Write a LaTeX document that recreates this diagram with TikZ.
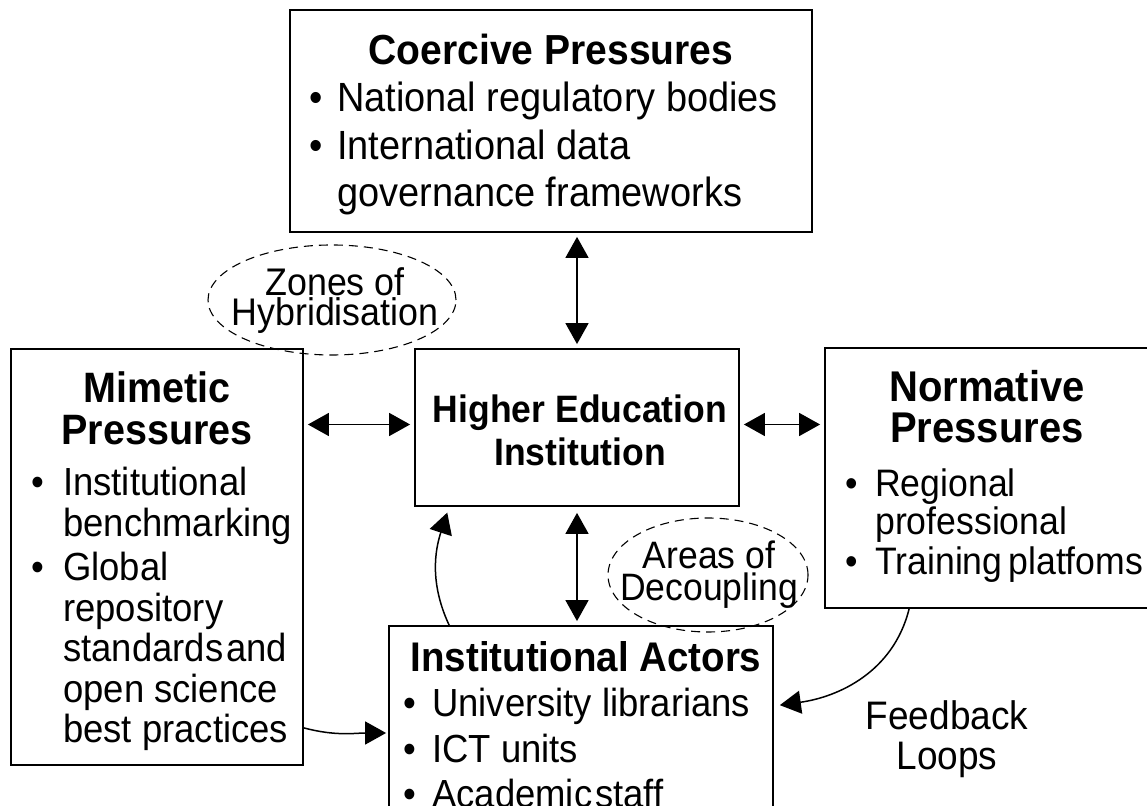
\documentclass[tikz,border=0pt]{standalone}
\usepackage{fontspec}
% slightly narrowed glyphs: tall letters at Arial-like widths
\setmainfont{Liberation Sans}[FakeStretch=0.93]
\usetikzlibrary{arrows.meta,shapes.geometric}
% bullet centred on the node's left edge, text starting #1 further right
\newcommand\bl[1][22pt]{\makebox[0pt][c]{•}\hspace*{#1}}
% top-aligned text blocks (first baseline = node base)
\newcommand\lft[2]{\parbox[t]{#1}{\raggedright #2}}
\newcommand\ctr[2]{\parbox[t]{#1}{\centering #2}}
\begin{document}
\begin{tikzpicture}[x=1pt,y=1pt,
  box/.style={draw, line width=1.8pt, inner sep=0pt},
  zone/.style={draw, ellipse, dash pattern=on 9pt off 6pt, line width=1.1pt, inner sep=0pt},
  txt/.style={inner sep=0pt, anchor=base west},
  ttl/.style={inner sep=0pt, anchor=base},
  both/.style={line width=1.6pt, {Triangle[width=23pt,length=21pt]}-{Triangle[width=23pt,length=21pt]}, shorten <=4pt, shorten >=4pt},
  one/.style={line width=1.5pt, -{Triangle[width=23pt,length=21pt]}}
]
\fill[white] (0,0) rectangle (1147,805);
\useasboundingbox (0,0) rectangle (1147,805);
\clip (0,0) rectangle (1147,805);

% frames
\node[box, minimum width=522pt, minimum height=222pt] (coer) at (551,684) {};
\node[box, minimum width=324pt, minimum height=157pt] (hei) at (577,377.5) {};
\node[box, minimum width=292pt, minimum height=416pt] (mim) at (157,248) {};
\node[box, minimum width=325pt, minimum height=260pt] (norm) at (987.5,327) {};
\node[box, minimum width=384pt, minimum height=224pt] (act) at (581,67) {};

% dashed zones
\node[zone, minimum width=248pt, minimum height=110pt] (zones) at (332,505) {};
\node[zone, minimum width=200pt, minimum height=114pt] (areas) at (708,230) {};

% coercive pressures
\node[ttl, font=\bfseries\fontsize{42}{47}\selectfont] (coerT) at (551,740) {Coercive Pressures};
\node[txt, font=\fontsize{40.8}{47.5}\selectfont] (coerL) at (316,693)
  {\lft{480pt}{\bl[21pt]National regulatory bodies\\
   \bl[21pt]International data\\
   \hspace*{21pt}governance frameworks}};

% mimetic pressures
\node[ttl, font=\bfseries\fontsize{42.5}{42}\selectfont] (mimT) at (157,402) {\ctr{280pt}{Mimetic\\Pressures}};
\node[txt, font=\fontsize{39.2}{40.5}\selectfont] (mimL) at (38,309)
  {\lft{260pt}{\bl[25pt]Institutional\\
   \hspace*{25pt}benchmarking\\[4pt]
   \bl[25pt]Global\\
   \hspace*{25pt}repository\\
   \hspace*{25pt}standards\hspace{3pt}and\\
   \hspace*{25pt}open science\\
   \hspace*{25pt}best practices}};

% normative pressures
\node[ttl, font=\bfseries\fontsize{43}{41}\selectfont] (normT) at (987,403) {\ctr{300pt}{Normative\\Pressures}};
\node[txt, font=\fontsize{38.3}{38}\selectfont] (normL) at (852,308)
  {\lft{420pt}{\bl[23pt]Regional\\
   \hspace*{23pt}professional\\[2pt]
   \bl[23pt]Training\hspace{6pt}platfoms}};

% the institution
\node[ttl, font=\bfseries\fontsize{38.2}{43}\selectfont] (heiT) at (580,382) {\ctr{310pt}{Higher Education\\Institution}};

% institutional actors
\node[ttl, font=\bfseries\fontsize{41.4}{45}\selectfont] (actT) at (586,133) {Institutional Actors};
\node[txt, font=\fontsize{39.2}{45}\selectfont] (actL) at (410,88)
  {\lft{350pt}{\bl University librarians\\
   \bl ICT units\\
   \bl Academic\hspace{3pt}staff}};

% zone labels
\node[ttl, font=\fontsize{38.5}{30}\selectfont] (zonesT) at (335,509.5) {\ctr{240pt}{Zones of\\Hybridisation}};
\node[ttl, font=\fontsize{38.2}{32}\selectfont] (areasT) at (709,236.5) {\ctr{190pt}{Areas of\\Decoupling}};
\node[ttl, font=\fontsize{39.8}{40}\selectfont] (fbT) at (947,75) {\ctr{200pt}{Feedback\\Loops}};

% two-way links
\draw[both] (hei.north) -- (hei.north |- coer.south);
\draw[both] ([yshift=3pt]hei.west) -- ([yshift=3pt]hei.west -| mim.east);
\draw[both] ([yshift=3pt]hei.east) -- ([yshift=3pt]hei.east -| norm.west);
\draw[both, shorten <=6pt] (hei.south) -- (hei.south |- act.north);

% one-way flows
\draw[one, shorten >=6pt] ([xshift=61pt]act.north west) to[out=115,in=-108] ([xshift=35pt]hei.south west);
\draw[one, shorten >=6pt] ([xshift=85pt]norm.south west) to[out=-104,in=8] ([yshift=32pt]act.east);
\draw[one, shorten >=2pt] ([yshift=38pt]mim.south east) to[out=-15,in=180] ([yshift=5pt]act.west);
\end{tikzpicture}
\end{document}
